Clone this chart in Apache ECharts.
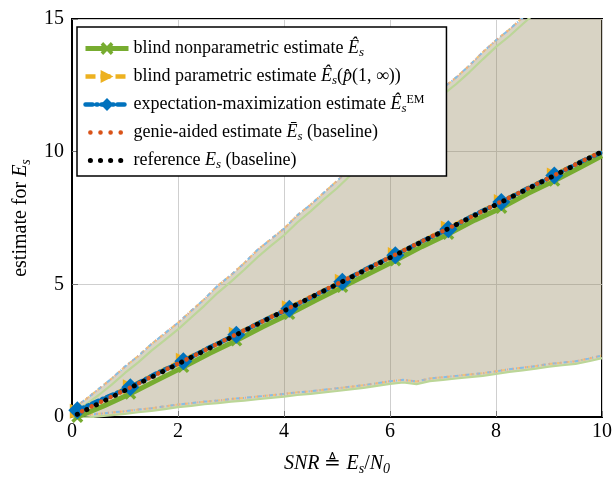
<!DOCTYPE html>
<html>
<head>
<meta charset="utf-8">
<script src="https://cdn.jsdelivr.net/npm/echarts@6/dist/echarts.min.js"></script>
<style>html,body{margin:0;padding:0;background:#fff;}#c{width:615px;height:479px;}</style>
</head>
<body>
<div id="c"></div>
<script>
// ---- data ----
var snr = [0.1,0.6,1.1,1.6,2.1,2.6,3.1,3.6,4.1,4.6,5.1,5.6,6.1,6.6,7.1,7.6,8.1,8.6,9.1,9.6,10.0];
var nonparam = [0.0,0.42,0.88,1.38,1.88,2.4,2.88,3.4,3.88,4.4,4.9,5.4,5.9,6.42,6.9,7.42,7.88,8.42,8.9,9.42,9.84];
var param = [0.22,0.68,1.14,1.64,2.14,2.62,3.12,3.62,4.12,4.62,5.12,5.62,6.12,6.62,7.12,7.62,8.12,8.62,9.12,9.62,10.0];
var em = [0.25,0.7,1.12,1.65,2.1,2.63,3.1,3.62,4.08,4.6,5.1,5.63,6.1,6.62,7.08,7.63,8.1,8.62,9.1,9.62,9.98];
var genie = [0.13,0.63,1.11,1.62,2.11,2.61,3.12,3.61,4.11,4.62,5.11,5.61,6.12,6.62,7.11,7.61,8.12,8.61,9.11,9.62,10.0];
var reference = [0.1,0.6,1.1,1.6,2.1,2.6,3.1,3.6,4.1,4.6,5.1,5.6,6.1,6.6,7.1,7.6,8.1,8.6,9.1,9.6,10.0];

var bandX = [0,0.25,0.5,0.75,1,1.25,1.5,1.75,2,2.25,2.5,2.75,3,3.25,3.5,3.75,4,4.25,4.5,4.75,5,5.25,5.5,5.75,6,6.25,6.5,6.75,7,7.25,7.5,7.75,8,8.25,8.5,8.75,9,9.25,9.5,9.75,10];
var upperOuter = [0.3,0.65,1.05,1.45,1.9,2.3,2.75,3.15,3.55,4.0,4.45,4.95,5.35,5.8,6.3,6.7,7.1,7.6,8.0,8.45,8.9,9.35,9.8,10.2,10.65,11.1,11.55,11.95,12.4,12.8,13.25,13.75,14.2,14.6,15.05,15.5,16.0,16.4,16.9,17.3,17.8];
var upperGreen = [0.15,0.45,0.82,1.22,1.66,2.06,2.5,2.9,3.3,3.75,4.2,4.68,5.1,5.55,6.02,6.45,6.85,7.33,7.75,8.2,8.62,9.1,9.55,9.95,10.4,10.84,11.3,11.7,12.15,12.55,13.0,13.48,13.95,14.35,14.8,15.25,15.75,16.15,16.65,17.05,17.55];
var lowerOuter = [0.05,0.08,0.12,0.17,0.22,0.28,0.33,0.4,0.47,0.52,0.58,0.62,0.68,0.72,0.77,0.82,0.87,0.93,0.97,1.03,1.08,1.14,1.2,1.27,1.35,1.4,1.34,1.45,1.5,1.55,1.6,1.65,1.72,1.8,1.86,1.92,2.0,2.05,2.1,2.2,2.32];
var lowerGreen = [-0.05,-0.02,0.02,0.07,0.12,0.18,0.23,0.3,0.37,0.42,0.48,0.52,0.58,0.62,0.67,0.72,0.77,0.83,0.87,0.93,0.98,1.04,1.1,1.17,1.25,1.3,1.24,1.35,1.4,1.45,1.5,1.55,1.62,1.7,1.76,1.82,1.9,1.95,2.0,2.1,2.22];

var xTicks = [0,2,4,6,8,10];
var yTicks = [0,5,10,15];

var names = ['blind nonparametric estimate','blind parametric estimate','expectation-maximization estimate','genie-aided estimate','reference'];
var legendText = {
  'blind nonparametric estimate': '{t|blind nonparametric estimate }{i|Ê}{s|s}',
  'blind parametric estimate': '{t|blind parametric estimate }{i|Ê}{s|s}{t|(}{i|p̂}{t|(1, ∞))}',
  'expectation-maximization estimate': '{t|expectation-maximization estimate }{i|Ê}{s|s}{u|EM}',
  'genie-aided estimate': '{t|genie-aided estimate }{i|Ē}{s|s}{t| (baseline)}',
  'reference': '{t|reference }{i|E}{s|s}{t| (baseline)}'
};

// ---- build ----
function pairs(xs, ys){ return xs.map(function(x,i){ return [x, ys[i]]; }); }
function marked(xs, ys, size){
  return xs.map(function(x,i){
    return {value:[x, ys[i]], symbolSize: (i%2===0 && i<20) ? size : 0};
  });
}
var serif = 'Liberation Serif';
var xPath = 'path://M0,2 L2,0 L5,3 L8,0 L10,2 L7,5 L10,8 L8,10 L5,7 L2,10 L0,8 L3,5 Z';
var yMax = yTicks[yTicks.length-1], yMin = yTicks[0];

function edge(ys, color, type, w){
  return {type:'line', data: pairs(bandX, ys), symbol:'none', silent:true,
    lineStyle:{color:color, width:w||2, type:type}, z:3};
}

var bandSeries = {
  type:'custom', silent:true, z:1,
  data:[[0,0]],
  renderItem:function(params, api){
    var pts = [];
    for (var i=0;i<bandX.length;i++){
      pts.push(api.coord([bandX[i], Math.min(yMax, upperOuter[i])]));
    }
    for (var j=bandX.length-1;j>=0;j--){
      pts.push(api.coord([bandX[j], Math.max(yMin, lowerGreen[j])]));
    }
    return {type:'polygon', shape:{points:pts}, style:{fill:'rgba(144,129,86,0.35)'}};
  }
};

var series = [
  bandSeries,
  edge(upperGreen, '#bcd698', 'solid', 2.2),
  edge(lowerGreen, '#bcd698', 'solid', 2.2),
  edge(upperOuter, '#f2c27a', [5,3]),
  edge(lowerOuter, '#f2c27a', [5,3]),
  edge(upperOuter, '#86bde6', [4,3,1,3]),
  edge(lowerOuter, '#86bde6', [4,3,1,3]),
  edge(upperOuter, '#eea58a', [1,5]),
  edge(lowerOuter, '#eea58a', [1,5]),
  {type:'line', name:names[0], data: marked(snr, nonparam, 12), symbol:xPath, symbolSize:12, showAllSymbol:true,
    itemStyle:{color:'#77ac30'}, lineStyle:{color:'#77ac30', width:5}, z:5},
  {type:'line', name:names[1], data: marked(snr, param, 15), symbol:'triangle', symbolRotate:-90, symbolSize:15, showAllSymbol:true,
    itemStyle:{color:'#edb120'}, lineStyle:{color:'#edb120', width:4.5, type:[10,5]}, z:6},
  {type:'line', name:names[2], data: marked(snr, em, 18), symbol:'diamond', symbolSize:18, showAllSymbol:true,
    itemStyle:{color:'#0072bd'}, lineStyle:{color:'#0072bd', width:4.5, type:[7,4,1,4], cap:'round'}, z:7},
  {type:'line', name:names[3], data: pairs(snr, genie), symbol:'none',
    itemStyle:{color:'#d95319'}, lineStyle:{color:'#d95319', width:4.5, type:[0.1,10.5], dashOffset:5.25, cap:'round'}, z:8},
  {type:'line', name:names[4], data: pairs(snr, reference), symbol:'none',
    itemStyle:{color:'#000'}, lineStyle:{color:'#000', width:5, type:[0.1,10.5], cap:'round'}, z:9}
];

var richBase = {
  t:{fontFamily:serif, fontSize:18, color:'#000', lineHeight:21},
  i:{fontFamily:serif, fontSize:18, fontStyle:'italic', color:'#000', lineHeight:21},
  s:{fontFamily:serif, fontSize:13, fontStyle:'italic', color:'#000', lineHeight:13, verticalAlign:'bottom', padding:[8,0,0,0]},
  u:{fontFamily:serif, fontSize:12, color:'#000', lineHeight:12, verticalAlign:'top'}
};

var legendData = [
  {name:names[0], lineStyle:{width:5}},
  {name:names[1], lineStyle:{width:4.5, type:[10,5]}},
  {name:names[2], lineStyle:{width:4.5, type:[7,4,1,4]}},
  {name:names[3], lineStyle:{width:4.5, type:[0.1,10], cap:'round'}, itemStyle:{opacity:0}},
  {name:names[4], lineStyle:{width:5, type:[0.1,10], cap:'round'}, itemStyle:{opacity:0}}
];

var nameRich = {
  t:{fontFamily:serif, fontSize:20, color:'#000', lineHeight:24},
  i:{fontFamily:serif, fontSize:20, fontStyle:'italic', color:'#000', lineHeight:24},
  s:{fontFamily:serif, fontSize:14, fontStyle:'italic', color:'#000', lineHeight:14, verticalAlign:'bottom', padding:[8,0,0,0]}
};

var chart = echarts.init(document.getElementById('c'), null, {renderer:'canvas'});
chart.setOption({
  animation:false,
  backgroundColor:'#fff',
  grid:{left:72, right:13, top:19, bottom:62, show:true, borderColor:'#000', borderWidth:2,
    containLabel:false, outerBoundsMode:'none'},
  legend:{
    data:legendData, orient:'vertical', left:77, top:27,
    backgroundColor:'#fff', borderColor:'#000', borderWidth:1.5,
    padding:[11,22,5,6], itemWidth:43, itemHeight:16, itemGap:7,
    selectedMode:false,
    textStyle:{fontFamily:serif, fontSize:18, color:'#000', rich:richBase},
    formatter:function(n){ return legendText[n]; }
  },
  xAxis:{
    type:'value', min:xTicks[0], max:xTicks[xTicks.length-1], interval:2,
    name:'{i|SNR}{t| ≜ }{i|E}{s|s}{t|/}{i|N}{s|0}', nameLocation:'middle', nameGap:35,
    nameTextStyle:{fontFamily:serif, fontSize:20, color:'#000', rich:nameRich},
    axisLine:{show:true, lineStyle:{color:'#000', width:2}},
    axisTick:{show:true, inside:true, length:6, lineStyle:{color:'#777', width:1}},
    axisLabel:{fontFamily:serif, fontSize:20, color:'#000', margin:5},
    splitLine:{show:true, lineStyle:{color:'#cfcfcf', width:1}}
  },
  yAxis:{
    type:'value', min:yMin, max:yMax, interval:5,
    name:'{t|estimate for }{i|E}{s|s}', nameLocation:'middle', nameGap:36,
    nameTextStyle:{fontFamily:serif, fontSize:20, color:'#000', rich:nameRich},
    axisLine:{show:true, lineStyle:{color:'#000', width:2}},
    axisTick:{show:true, inside:true, length:6, lineStyle:{color:'#777', width:1}},
    axisLabel:{fontFamily:serif, fontSize:20, color:'#000', margin:8},
    splitLine:{show:true, lineStyle:{color:'#cfcfcf', width:1}}
  },
  series:series
});
</script>
</body>
</html>
